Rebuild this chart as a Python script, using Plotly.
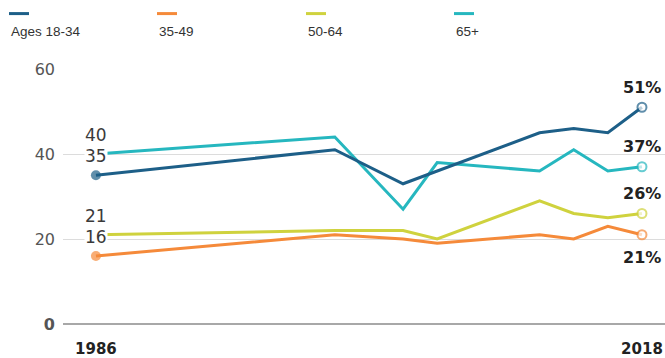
import plotly.graph_objects as go

# Share of each age group, by survey year
groups = ["Ages 18-34", "35-49", "50-64", "65+"]
colors = ["#1d5f88", "#f58a3a", "#cfd23e", "#26b7bf"]

years_1834 = [1986, 2000, 2004, 2012, 2014, 2016, 2018]
vals_1834 = [35, 41, 33, 45, 46, 45, 51]

years_rest = [1986, 2000, 2004, 2006, 2012, 2014, 2016, 2018]
vals_3549 = [16, 21, 20, 19, 21, 20, 23, 21]
vals_5064 = [21, 22, 22, 20, 29, 26, 25, 26]
vals_65 = [40, 44, 27, 38, 36, 41, 36, 37]

series_x = [years_1834, years_rest, years_rest, years_rest]
series_y = [vals_1834, vals_3549, vals_5064, vals_65]
start_marker = [True, True, False, False]

x_ticks = [1986, 2018]
y_ticks = [0, 20, 40, 60]

fig = go.Figure()

# Draw the lines; 65+ first so the younger groups sit on top
for i in [3, 2, 1, 0]:
    xs, ys, c = series_x[i], series_y[i], colors[i]
    n = len(xs)
    sizes = [0] * n
    fills = [c] * n
    if start_marker[i]:
        sizes[0] = 10
    sizes[-1] = 9
    fills[-1] = "white"
    line_w = [0] * n
    line_w[-1] = 2
    fig.add_trace(go.Scatter(
        x=xs, y=ys, mode="lines+markers", name=groups[i],
        line=dict(color=c, width=3),
        marker=dict(size=sizes, color=fills, symbol="circle",
                    line=dict(color=c, width=line_w)),
        cliponaxis=False, showlegend=False, hoverinfo="skip",
    ))

# Start and end value labels
for i in range(4):
    xs, ys = series_x[i], series_y[i]
    fig.add_annotation(x=xs[0], y=ys[0], text=str(ys[0]), showarrow=False,
                       xref="x", yref="y", yshift=19, xanchor="center",
                       yanchor="middle", bgcolor="white", borderpad=0,
                       font=dict(family="DejaVu Sans", size=17, color="#3a3a3a"))
    end_shift = -23 if i == 1 else 20
    fig.add_annotation(x=xs[-1], y=ys[-1], text="<b>%d%%</b>" % ys[-1],
                       showarrow=False, xref="x", yref="y", yshift=end_shift,
                       xanchor="center", yanchor="middle",
                       font=dict(family="DejaVu Sans", size=16, color="#222"))

# Legend drawn as swatch above label, spread across the top
L, T, W, H = 63, 69, 602, 260


def px(xp):
    return (xp - L) / W


def py(yp):
    return (T + H - yp) / H


legend_x = [9, 157, 306, 454]
for i in range(4):
    fig.add_shape(type="line", xref="paper", yref="paper",
                  x0=px(legend_x[i]), x1=px(legend_x[i] + 20),
                  y0=py(12.5), y1=py(12.5),
                  line=dict(color=colors[i], width=3))
    fig.add_annotation(xref="paper", yref="paper", x=px(legend_x[i]),
                       y=py(31), text=groups[i], showarrow=False,
                       xanchor="left", yanchor="middle",
                       font=dict(family="Liberation Sans, Arial", size=13.5,
                                 color="#333"))

fig.update_layout(
    width=665, height=358,
    margin=dict(l=L, r=0, t=T, b=358 - T - H),
    paper_bgcolor="white", plot_bgcolor="white",
    xaxis=dict(
        range=[1984.07, 2019.35], tickvals=x_ticks,
        ticktext=["<b>%d</b>" % v for v in x_ticks],
        showgrid=False, zeroline=False, showline=False, ticks="",
        ticklabelstandoff=14,
        tickfont=dict(family="DejaVu Sans", size=15, color="#222"),
    ),
    yaxis=dict(
        range=[0, 60], tickvals=y_ticks,
        ticktext=["<b>0</b>"] + [str(v) for v in y_ticks[1:]],
        showgrid=True, gridcolor="#dcdcdc", gridwidth=1,
        zeroline=True, zerolinecolor="#a8a8a8", zerolinewidth=2,
        showline=False, ticks="", ticklabelstandoff=7,
        tickfont=dict(family="DejaVu Sans", size=16, color="#555"),
    ),
)

fig.write_html("out.html")
